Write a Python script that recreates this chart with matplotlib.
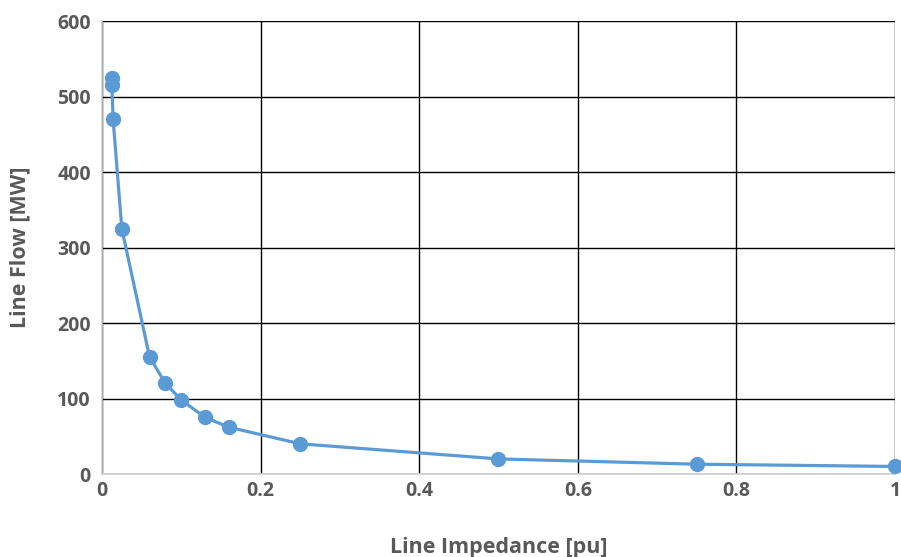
import matplotlib.pyplot as plt
import numpy as np

impedance = [0.0125, 0.0125, 0.014, 0.025, 0.06, 0.08, 0.1, 0.13, 0.16, 0.25, 0.5, 0.75, 1.0]
flow = [525, 515, 470, 325, 155, 120, 98, 75, 62, 40, 20, 13, 10]

blue = '#5B9BD5'
gray = '#595959'
plt.rcParams['font.family'] = ['Open Sans', 'DejaVu Sans']

fig = plt.figure(figsize=(9.01, 5.57), dpi=100)
ax = fig.add_axes([0.1132, 0.149, 0.8801, 0.813])

ax.plot(impedance, flow, color=blue, lw=2.3, marker='o', ms=10, zorder=3, clip_on=False)

ax.set_xlim(0, 1)
ax.set_ylim(0, 600)
ax.set_xticks([0, 0.2, 0.4, 0.6, 0.8, 1])
ax.set_xticklabels(['0', '0.2', '0.4', '0.6', '0.8', '1'])
ax.set_yticks(range(0, 601, 100))
ax.grid(True, color='black', lw=1)
ax.set_axisbelow(True)

for s in ['top', 'right']:
    ax.spines[s].set_visible(False)
for s in ['left', 'bottom']:
    ax.spines[s].set_color('#D0D0D0')
    ax.spines[s].set_linewidth(1.2)

ax.tick_params(axis='y', length=0, labelsize=14, labelcolor=gray, pad=8)
ax.tick_params(axis='x', length=0, labelsize=14, labelcolor=gray, pad=5)
for lbl in ax.get_xticklabels() + ax.get_yticklabels():
    lbl.set_fontweight('bold')

ax.set_xlabel('Line Impedance [pu]', fontsize=15.5, fontweight='bold', color=gray, labelpad=26)
ax.set_ylabel('Line Flow [MW]', fontsize=15.5, fontweight='bold', color=gray, labelpad=19)

fig.savefig('out.png', dpi=100)
